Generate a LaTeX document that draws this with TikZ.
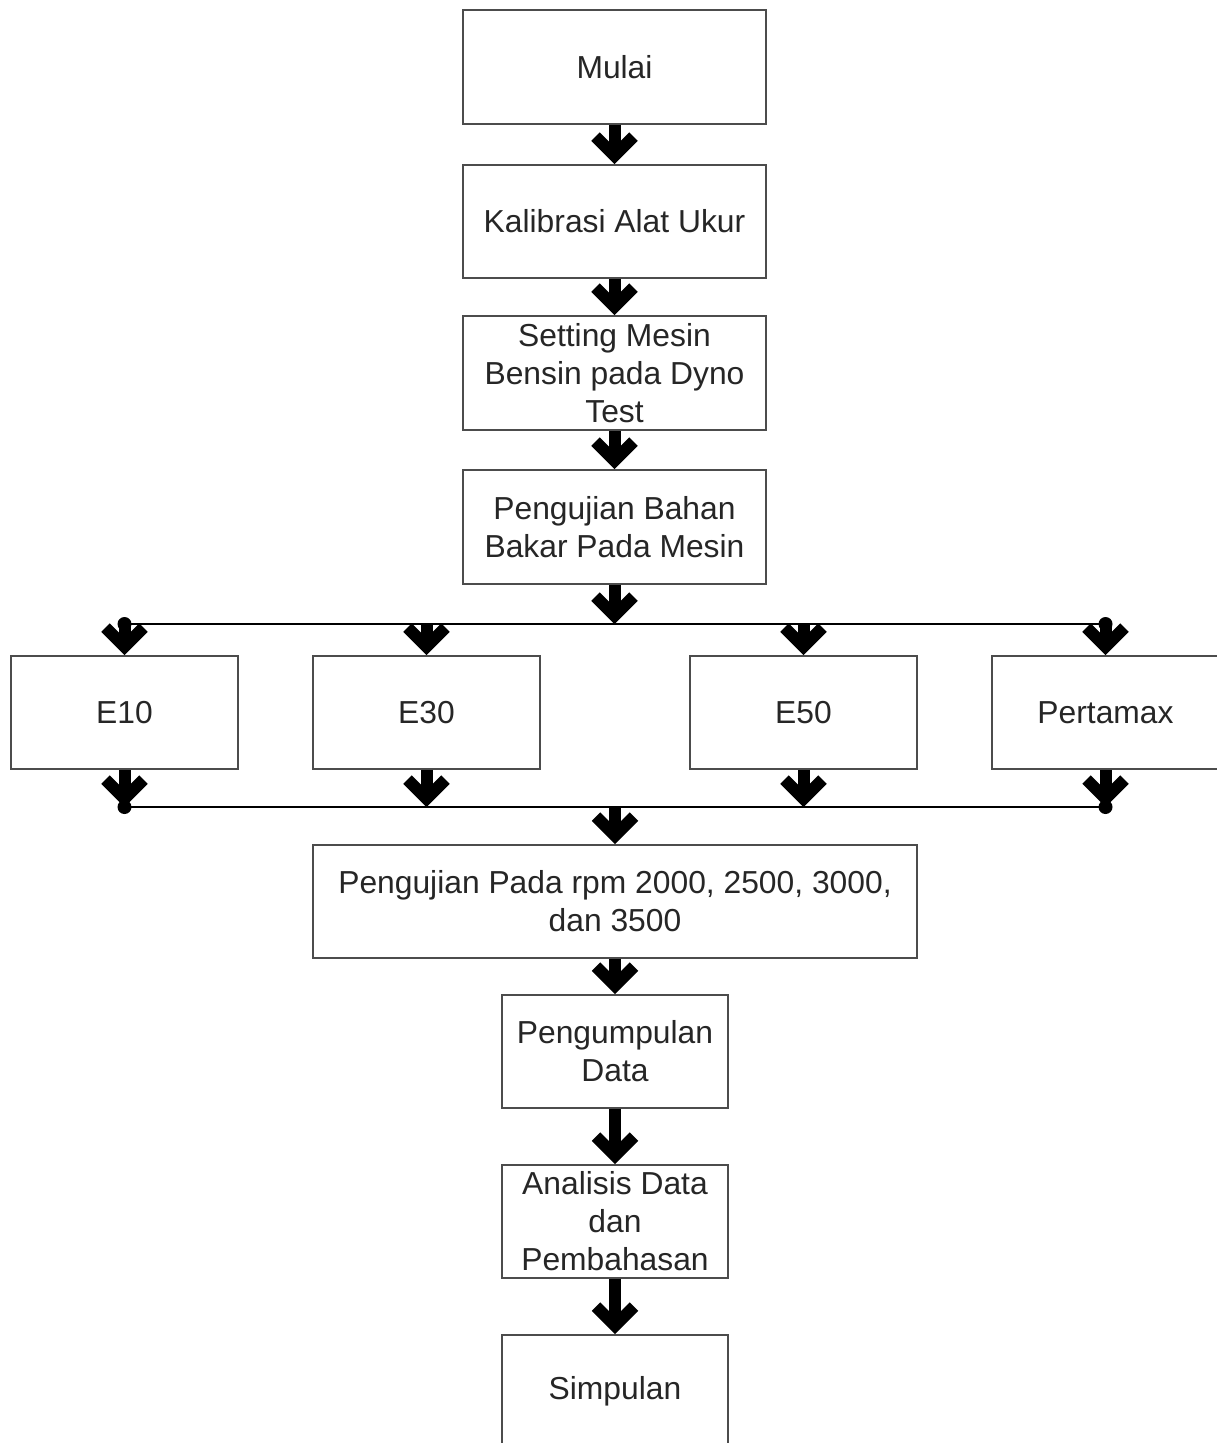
\documentclass[tikz,border=0pt]{standalone}
\usepackage{fontspec}
\setmainfont{Liberation Sans}
\usetikzlibrary{arrows.meta}
\tikzset{
  box/.style={draw=black!70, line width=1.8pt, fill=white, inner sep=0pt, align=center,
    text=black!85, font=\fontsize{31.8}{38}\selectfont},
  bigarrow/.style={line width=12pt, black, -{Straight Barb[length=19pt,width=38pt,line width=12pt]}},
  conn/.style={line width=2.4pt, black},
  dot/.style={black}
}
\begin{document}
\begin{tikzpicture}[x=1pt,y=-1pt]
\useasboundingbox (0,0) rectangle (1216,1443);
\node[box, minimum width=303pt, minimum height=114pt] (mulai) at (614.5,67) {Mulai};
\node[box, minimum width=303pt, minimum height=113pt] (kal) at (614.5,221.5) {Kalibrasi Alat Ukur};
\node[box, minimum width=303pt, minimum height=114pt] (set) at (614.5,373) {Setting Mesin\\Bensin pada Dyno\\Test};
\node[box, minimum width=303pt, minimum height=114pt] (bahan) at (614.5,527) {Pengujian Bahan\\Bakar Pada Mesin};
\node[box, minimum width=227pt, minimum height=113pt] (e10) at (124.5,712.5) {E10};
\node[box, minimum width=227pt, minimum height=113pt] (e30) at (426.5,712.5) {E30};
\node[box, minimum width=227pt, minimum height=113pt] (e50) at (803.5,712.5) {E50};
\node[box, minimum width=227pt, minimum height=113pt] (pmx) at (1105.5,712.5) {Pertamax};
\node[box, minimum width=604pt, minimum height=113pt] (rpm) at (615,901.5) {Pengujian Pada rpm 2000, 2500, 3000,\\dan 3500};
\node[box, minimum width=226pt, minimum height=113pt] (data) at (615,1051.5) {Pengumpulan\\Data};
\node[box, minimum width=226pt, minimum height=113pt] (anal) at (615,1221.5) {Analisis Data\\dan\\Pembahasan};
\node[box, minimum width=226pt, minimum height=113pt] (simp) at (615,1391.5) {Simpulan};

\coordinate (bt) at (614.5,624);
\coordinate (bl) at (124.5,624);
\coordinate (br) at (1105.5,624);
\coordinate (t30) at (426.5,624);
\coordinate (t50) at (803.5,624);
\coordinate (bb) at (615,807);
\coordinate (bbl) at (124.5,807);
\coordinate (bbr) at (1105.5,807);
\coordinate (b30) at (426.5,807);
\coordinate (b50) at (803.5,807);

\draw[conn] (bl) -- (br);
\draw[conn] (bbl) -- (bbr);
\fill[dot] (bl) circle (7);
\fill[dot] (br) circle (7);
\fill[dot] (bbl) circle (7);
\fill[dot] (bbr) circle (7);

\draw[bigarrow] (mulai.south) -- (kal.north);
\draw[bigarrow] (kal.south) -- (set.north);
\draw[bigarrow] (set.south) -- (bahan.north);
\draw[bigarrow] (bahan.south) -- (bt);
\draw[bigarrow] (bl) -- (e10.north);
\draw[bigarrow] (t30) -- (e30.north);
\draw[bigarrow] (t50) -- (e50.north);
\draw[bigarrow] (br) -- (pmx.north);
\draw[bigarrow] (e10.south) -- (bbl);
\draw[bigarrow] (e30.south) -- (b30);
\draw[bigarrow] (e50.south) -- (b50);
\draw[bigarrow] (pmx.south) -- (bbr);
\draw[bigarrow] (bb) -- (rpm.north);
\draw[bigarrow] (rpm.south) -- (data.north);
\draw[bigarrow] (data.south) -- (anal.north);
\draw[bigarrow] (anal.south) -- (simp.north);
\end{tikzpicture}
\end{document}
